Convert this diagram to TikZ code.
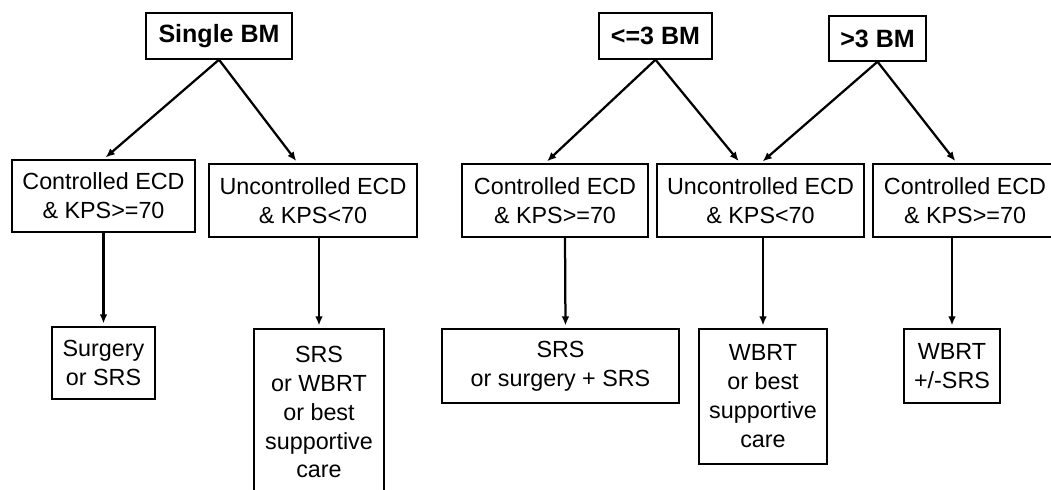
\documentclass[tikz,border=0pt]{standalone}
\usepackage{fontspec}
\setmainfont{Liberation Sans}
\usetikzlibrary{arrows.meta,positioning}

\begin{document}
\begin{tikzpicture}[x=0.025cm,y=-0.025cm,>={Latex[length=6.5pt,width=5.5pt]},
  box/.style={draw,line width=1pt,align=center,inner sep=0pt,font=\fontsize{16.6}{20.6}\selectfont},
  head/.style={draw,line width=1pt,align=center,inner sep=0pt,font=\fontsize{17.8}{21}\selectfont\bfseries},
  link/.style={->,line width=1.6pt,shorten >=2pt}]
\useasboundingbox (0,0) rectangle (1051,490);
% single BM
\node[head,minimum width=3.65cm,minimum height=1.15cm] (single) at (219,36) {Single BM};
\node[box,minimum width=4.575cm,minimum height=1.8cm] (ctlA) at (103.5,196) {Controlled ECD\\\& KPS>=70};
\node[box,minimum width=5.2cm,minimum height=1.825cm] (uncA) at (313,200.5) {Uncontrolled ECD\\\& KPS<70};
\node[box,minimum width=2.575cm,minimum height=1.8cm] (trtA) at (103.5,363) {Surgery\\or SRS};
\node[box,minimum width=3.25cm,minimum height=4.15cm] (trtB) at (319,412) {SRS\\or WBRT\\or best\\supportive\\care};
\draw[link] (single.south) -- (ctlA.north);
\draw[link] (single.south) -- ([xshift=-0.375cm]uncA.north);
\draw[link] (ctlA.south) -- (trtA.north);
\draw[link] (trtB.north |- uncA.south) -- (trtB.north);
% <=3 BM and >3 BM
\node[head,minimum width=2.825cm,minimum height=1.15cm] (few) at (655.5,36) {<=3 BM};
\node[head,minimum width=2.425cm,minimum height=1.125cm] (many) at (877.5,38.5) {>3 BM};
\node[box,minimum width=4.65cm,minimum height=1.825cm] (ctlB) at (555,200.5) {Controlled ECD\\\& KPS>=70};
\node[box,minimum width=5.175cm,minimum height=1.825cm] (uncB) at (760.5,200.5) {Uncontrolled ECD\\\& KPS<70};
\node[box,minimum width=4.6cm,minimum height=1.825cm] (ctlC) at (965,200.5) {Controlled ECD\\\& KPS>=70};
\node[box,minimum width=5.925cm,minimum height=1.85cm] (trtC) at (560.5,366) {SRS\\or surgery + SRS};
\node[box,minimum width=3.2cm,minimum height=3.375cm] (trtD) at (763,396.5) {WBRT\\or best\\supportive\\care};
\node[box,minimum width=2.4cm,minimum height=1.85cm] (trtE) at (952,366) {WBRT\\+/-SRS};
\draw[link] (few.south) -- ([xshift=-0.25cm]ctlB.north);
\draw[link] (few.south) -- ([xshift=-0.5cm]uncB.north);
\draw[link] (many.south) -- (uncB.north);
\draw[link] (many.south) -- ([xshift=-0.2cm]ctlC.north);
\draw[link] ([xshift=0.25cm]ctlB.south) -- ([xshift=0.125cm]trtC.north);
\draw[link] (trtD.north |- uncB.south) -- (trtD.north);
\draw[link] (trtE.north |- ctlC.south) -- (trtE.north);
\end{tikzpicture}
\end{document}
